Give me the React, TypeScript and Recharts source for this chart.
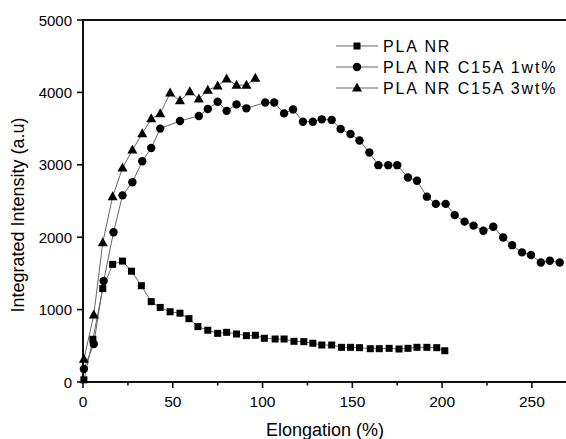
import { LineChart, Line, XAxis, YAxis } from "recharts";

const plaX = [0.5, 5.5, 11, 16.5, 22, 27, 32.5, 38, 43, 48.5, 54, 59, 64, 69.5, 75, 80, 85.5, 91, 96, 101, 107, 112, 117.5, 123, 128, 133, 138.5, 144, 149, 154, 160, 165, 170.5, 176, 181, 186, 191.5, 197, 201.5];
const plaY = [30, 590, 1290, 1625, 1670, 1530, 1330, 1110, 1030, 970, 950, 875, 765, 715, 672, 686, 663, 640, 645, 604, 594, 594, 562, 557, 535, 511, 511, 479, 479, 474, 460, 460, 465, 456, 465, 479, 479, 474, 432];

const c1X = [0.5, 6, 11.5, 17, 22, 27.5, 33, 38, 43, 54, 64.5, 69.5, 75, 80, 85.5, 91, 101.5, 106.5, 112, 117, 122.5, 128, 133, 138.5, 143.5, 149, 154, 159.5, 164.5, 170, 175, 181, 186, 191.5, 196.5, 202, 207, 212.5, 217.5, 223, 228.5, 234, 239, 244.5, 249.5, 255, 260, 265.5];
const c1Y = [180, 525, 1395, 2068, 2578, 2758, 3050, 3232, 3500, 3605, 3675, 3770, 3870, 3745, 3835, 3780, 3860, 3860, 3710, 3765, 3595, 3595, 3628, 3620, 3495, 3425, 3335, 3170, 2995, 2995, 2995, 2825, 2780, 2560, 2460, 2460, 2305, 2215, 2160, 2090, 2145, 1995, 1890, 1790, 1755, 1650, 1675, 1650];

const c3X = [0.5, 6, 11, 16.5, 22, 27.5, 33, 38, 43, 48.5, 54, 59.5, 64.5, 69.5, 75, 80, 85.5, 91, 96];
const c3Y = [313, 925, 1925, 2560, 2955, 3205, 3430, 3635, 3705, 3990, 3885, 4010, 3910, 4030, 4090, 4185, 4100, 4100, 4195];

const xDomain = [0, 269];
const yDomain = [0, 5000];
const xTicks = [0, 25, 50, 75, 100, 125, 150, 175, 200, 225, 250];
const yTicks = [0, 1000, 2000, 3000, 4000, 5000];
const seriesNames = ["PLA NR", "PLA NR C15A 1wt%", "PLA NR C15A 3wt%"];

const toRows = (xs: number[], ys: number[]) => xs.map((x, i) => ({ x, y: ys[i] }));
const plaData = toRows(plaX, plaY);
const c1Data = toRows(c1X, c1Y);
const c3Data = toRows(c3X, c3Y);

// axis frame (bottom, left, top) as one polyline through the chart's scales
const frameData = [
  { x: xDomain[1], y: yDomain[0] },
  { x: xDomain[0], y: yDomain[0] },
  { x: xDomain[0], y: yDomain[1] },
  { x: xDomain[1], y: yDomain[1] },
];
const xTickData = xTicks.map((v) => ({ x: v, y: yDomain[0] }));
const yTickData = yTicks.map((v) => ({ x: xDomain[0], y: v }));

const FONT = '"Liberation Sans", Arial, sans-serif';
const LINE = "#666";
const AXIS = "#111";

const Square = (p: any) =>
  p.cx == null ? null : <rect key={p.index} x={p.cx - 3.5} y={p.cy - 3.5} width={7} height={7} fill="#000" />;
const Circle = (p: any) =>
  p.cx == null ? null : <circle key={p.index} cx={p.cx} cy={p.cy} r={4.2} fill="#000" />;
const Triangle = (p: any) =>
  p.cx == null ? null : (
    <path key={p.index} d={`M${p.cx},${p.cy - 5.5}L${p.cx + 5},${p.cy + 3.5}L${p.cx - 5},${p.cy + 3.5}Z`} fill="#000" />
  );

// tick marks drawn as dots sitting on the axes
const XTickMark = (p: any) => {
  if (p.cx == null) return null;
  const major = xTicks[p.index] % 50 === 0;
  return <rect key={p.index} x={p.cx - 0.8} y={p.cy} width={1.6} height={major ? 6 : 3.5} fill={AXIS} />;
};
const YTickMark = (p: any) =>
  p.cx == null ? null : <rect key={p.index} x={p.cx - 6} y={p.cy - 0.8} width={6} height={1.6} fill={AXIS} />;

const markers = [
  (x: number, y: number) => <rect x={x - 3.5} y={y - 3.5} width={7} height={7} fill="#000" />,
  (x: number, y: number) => <circle cx={x} cy={y} r={4.2} fill="#000" />,
  (x: number, y: number) => <path d={`M${x},${y - 5.5}L${x + 5},${y + 3.5}L${x - 5},${y + 3.5}Z`} fill="#000" />,
];

function XTick(props: any) {
  const { x, y, payload } = props;
  if (payload.value % 50 !== 0) return null;
  return (
    <text x={x} y={y + 25} textAnchor="middle" fontSize={15.5} fontFamily={FONT} fill="#000">
      {payload.value}
    </text>
  );
}

function YTick(props: any) {
  const { x, y, payload } = props;
  return (
    <text x={x - 11} y={y + 5.5} textAnchor="end" fontSize={15} fontFamily={FONT} fill="#000">
      {payload.value}
    </text>
  );
}

function Overlay() {
  return (
    <svg width={566} height={439} style={{ position: "absolute", left: 0, top: 0, pointerEvents: "none" }}>
      {seriesNames.map((name, i) => {
        const y = 46 + i * 21;
        return (
          <g key={name}>
            <path d={`M336,${y}H378`} stroke={LINE} strokeWidth={1.2} />
            {markers[i](357, y)}
            <text x={383} y={y + 6} fontSize={16} fontFamily={FONT} letterSpacing={1.9} fill="#000">
              {name}
            </text>
          </g>
        );
      })}
      <text x={325} y={436} textAnchor="middle" fontSize={18} fontFamily={FONT} fill="#000">
        Elongation (%)
      </text>
      <text
        x={24}
        y={215}
        transform="rotate(-90 24 215)"
        textAnchor="middle"
        fontSize={18}
        fontFamily={FONT}
        fill="#000"
      >
        Integrated Intensity (a.u)
      </text>
    </svg>
  );
}

export default function App() {
  return (
    <div style={{ position: "absolute", left: 0, top: 0, width: 566, height: 439 }}>
      <LineChart width={566} height={439} margin={{ top: 20, right: 0, bottom: 0, left: 0 }}>
        <XAxis
          dataKey="x"
          type="number"
          domain={xDomain}
          ticks={xTicks}
          interval={0}
          height={57}
          axisLine={false}
          tickLine={false}
          tickSize={0}
          tickMargin={0}
          tick={<XTick />}
        />
        <YAxis
          dataKey="y"
          type="number"
          domain={yDomain}
          ticks={yTicks}
          interval={0}
          width={83}
          axisLine={false}
          tickLine={false}
          tickSize={0}
          tickMargin={0}
          tick={<YTick />}
        />
        <Line data={frameData} dataKey="y" stroke={AXIS} strokeWidth={2} dot={false} activeDot={false} legendType="none" isAnimationActive={false} />
        <Line data={xTickData} dataKey="y" stroke="none" dot={XTickMark} activeDot={false} legendType="none" isAnimationActive={false} />
        <Line data={yTickData} dataKey="y" stroke="none" dot={YTickMark} activeDot={false} legendType="none" isAnimationActive={false} />
        <Line data={plaData} dataKey="y" name={seriesNames[0]} stroke={LINE} strokeWidth={1} dot={Square} activeDot={false} isAnimationActive={false} />
        <Line data={c1Data} dataKey="y" name={seriesNames[1]} stroke={LINE} strokeWidth={1} dot={Circle} activeDot={false} isAnimationActive={false} />
        <Line data={c3Data} dataKey="y" name={seriesNames[2]} stroke={LINE} strokeWidth={1} dot={Triangle} activeDot={false} isAnimationActive={false} />
      </LineChart>
      <Overlay />
    </div>
  );
}
